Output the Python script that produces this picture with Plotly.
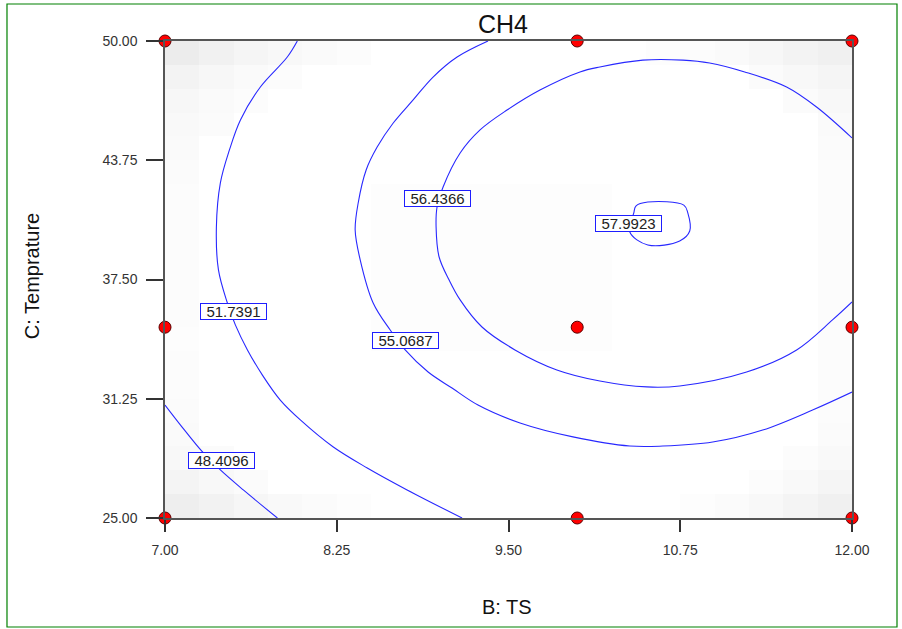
import plotly.graph_objects as go

# ---------------- data ----------------
# design points (B: TS, C: Temprature)
design_x = [7, 7, 7, 10, 10, 10, 12, 12, 12]
design_y = [25, 35, 50, 25, 35, 50, 25, 35, 50]

# contour levels and traced contour paths (data units)
levels = ["48.4096", "51.7391", "55.0687", "56.4366", "57.9923"]

c1_x = [7.00, 7.113, 7.273, 7.403, 7.570, 7.818]
c1_y = [30.92, 29.87, 28.46, 27.52, 26.47, 25.00]

c2_x = [7.963, 7.890, 7.694, 7.549, 7.469, 7.403, 7.374, 7.389, 7.454, 7.512,
        7.600, 7.709, 7.839, 7.985, 8.225, 8.472, 8.762, 9.162]
c2_y = [50.00, 49.16, 47.59, 45.86, 44.29, 42.56, 40.25, 38.00, 36.27, 35.12,
        33.81, 32.49, 31.18, 30.14, 28.72, 27.62, 26.47, 25.00]

c3_x = [9.351, 9.126, 8.951, 8.806, 8.661, 8.544, 8.464, 8.406, 8.384, 8.421,
        8.515, 8.639, 8.748, 8.915, 9.089, 9.278, 9.584, 9.969, 10.383, 10.623,
        10.986, 11.350, 11.713, 12.00]
c3_y = [50.00, 49.16, 48.11, 46.91, 45.70, 44.44, 43.24, 41.51, 40.09, 38.52,
        36.27, 34.85, 33.81, 32.65, 31.81, 30.92, 29.98, 29.25, 28.77, 28.77,
        28.98, 29.61, 30.66, 31.60]

c4_x = [12.00, 11.742, 11.524, 11.219, 10.964, 10.768, 10.478, 10.165, 10.020, 9.729,
        9.489, 9.293, 9.148, 9.024, 8.980, 8.973, 8.995, 9.068, 9.148, 9.307,
        9.547, 9.852, 10.165, 10.507, 10.746, 11.233, 11.597, 11.858, 12.00]
c4_y = [44.92, 46.54, 47.59, 48.38, 48.85, 49.00, 49.00, 48.64, 48.38, 47.43,
        46.38, 45.34, 44.13, 42.35, 41.30, 40.25, 38.68, 37.47, 36.43, 35.01,
        33.81, 32.76, 32.18, 31.87, 31.92, 32.65, 33.81, 35.38, 36.32]

c5_x = [10.383, 10.514, 10.746, 10.819, 10.805, 10.776, 10.514, 10.427, 10.412, 10.383]
c5_y = [39.99, 39.31, 39.52, 40.04, 40.99, 41.40, 41.56, 41.35, 40.99, 39.99]

# label positions for each contour level
label_x = [7.41, 7.498, 8.748, 8.980, 10.376]
label_y = [27.99, 35.80, 34.28, 41.72, 40.46]

# faint grey shading cells: (column 0-19 along TS, row 0-19 along temperature, grey level)
shade_cells = [
    (0, 19, 236), (1, 19, 241), (2, 19, 245), (3, 19, 248), (4, 19, 250), (5, 19, 252),
    (0, 18, 243), (1, 18, 247), (2, 18, 250), (3, 18, 252),
    (0, 17, 247), (1, 17, 250), (2, 17, 252),
    (0, 16, 249), (1, 16, 251), (0, 15, 250), (0, 14, 251), (0, 13, 252),
    (0, 12, 252), (0, 11, 252), (0, 10, 252), (0, 9, 252), (0, 8, 252), (0, 7, 253),
    (19, 19, 240), (18, 19, 243), (17, 19, 247), (16, 19, 250), (15, 19, 252), (14, 19, 253),
    (19, 18, 245), (18, 18, 248), (17, 18, 251), (19, 17, 248), (18, 17, 251),
    (19, 16, 250), (19, 15, 251), (19, 14, 252), (19, 13, 252), (19, 12, 252),
    (19, 11, 252), (19, 10, 252), (19, 9, 252), (19, 8, 252), (19, 7, 252),
    (19, 6, 252), (19, 5, 252),
    (19, 0, 240), (18, 0, 244), (17, 0, 248), (16, 0, 251), (15, 0, 253),
    (19, 1, 245), (18, 1, 249), (17, 1, 252), (19, 2, 249), (18, 2, 252),
    (19, 3, 251), (19, 4, 252),
    (0, 0, 238), (1, 0, 242), (2, 0, 246), (3, 0, 249), (4, 0, 251), (5, 0, 253),
    (0, 1, 244), (1, 1, 248), (2, 1, 251), (0, 2, 248), (1, 2, 251),
    (0, 3, 250), (0, 4, 251), (0, 5, 252), (0, 6, 252),
]
shade_block = dict(cols=(6, 12), rows=(7, 13), level=253)

x_ticks = [7.00, 8.25, 9.50, 10.75, 12.00]
y_ticks = [25.00, 31.25, 37.50, 43.75, 50.00]

# ---------------- figure ----------------
grid = [[255] * 20 for _ in range(20)]
for r in range(shade_block["rows"][0], shade_block["rows"][1] + 1):
    for c in range(shade_block["cols"][0], shade_block["cols"][1] + 1):
        grid[r][c] = shade_block["level"]
for c, r, g in shade_cells:
    grid[r][c] = g

fig = go.Figure()
fig.add_trace(go.Heatmap(
    z=grid, x0=7.125, dx=0.25, y0=25.625, dy=1.25,
    zmin=230, zmax=255, zsmooth=False, showscale=False, hoverinfo="skip",
    colorscale=[[0, "rgb(230,230,230)"], [1, "rgb(255,255,255)"]],
))

line_style = dict(color="rgb(40,40,255)", width=1.1)
for xs, ys in [(c1_x, c1_y), (c2_x, c2_y), (c3_x, c3_y), (c4_x, c4_y), (c5_x, c5_y)]:
    fig.add_trace(go.Scatter(x=xs, y=ys, mode="lines", line=line_style,
                             line_shape="spline", hoverinfo="skip", showlegend=False))

fig.add_trace(go.Scatter(
    x=design_x, y=design_y, mode="markers", cliponaxis=False, showlegend=False,
    marker=dict(color="rgb(255,0,0)", size=12, line=dict(color="rgb(90,0,0)", width=1)),
))

for txt, lx, ly in zip(levels, label_x, label_y):
    fig.add_annotation(
        x=lx, y=ly, xref="x", yref="y", text=txt, showarrow=False,
        font=dict(family="Liberation Sans, Arial", size=15, color="#222"),
        bgcolor="white", bordercolor="rgb(30,30,255)", borderwidth=1, borderpad=0,
        width=65, height=15,
    )

text_font = dict(family="Liberation Sans, Arial", color="#111")
fig.add_annotation(x=0.492, y=1.0356, xref="paper", yref="paper", text="CH4",
                   xanchor="center", yanchor="middle",
                   showarrow=False, font=dict(size=25, **text_font))
fig.add_annotation(x=0.498, y=-0.1866, xref="paper", yref="paper", text="B: TS",
                   xanchor="center", yanchor="middle",
                   showarrow=False, font=dict(size=20, **text_font))
fig.add_annotation(x=-0.1936, y=0.507, xref="paper", yref="paper", text="C: Temprature",
                   xanchor="center", yanchor="middle",
                   showarrow=False, textangle=-90, font=dict(size=20, **text_font))

# green frame around the whole picture
fig.add_shape(type="rect", xref="paper", yref="paper",
              x0=-0.230, x1=1.0655, y0=-0.2285, y1=1.0776,
              line=dict(color="rgb(0,128,0)", width=1.2), layer="below")

axis_common = dict(
    showgrid=False, zeroline=False, showline=True, mirror=True,
    linecolor="#555", linewidth=1.5, ticks="outside", tickcolor="#333", tickwidth=1.5,
    tickfont=dict(family="Liberation Sans, Arial", size=14, color="#333"),
    tickformat=".2f",
)
fig.update_xaxes(range=[7, 12], tickvals=x_ticks, ticklen=12, ticklabelstandoff=6, **axis_common)
fig.update_yaxes(range=[25, 50], tickvals=y_ticks, ticklen=17, ticklabelstandoff=6, **axis_common)

fig.update_layout(
    width=902, height=629,
    margin=dict(l=165, r=50, t=41, b=111),
    plot_bgcolor="white", paper_bgcolor="white",
    showlegend=False,
)

fig.write_html("out.html")
